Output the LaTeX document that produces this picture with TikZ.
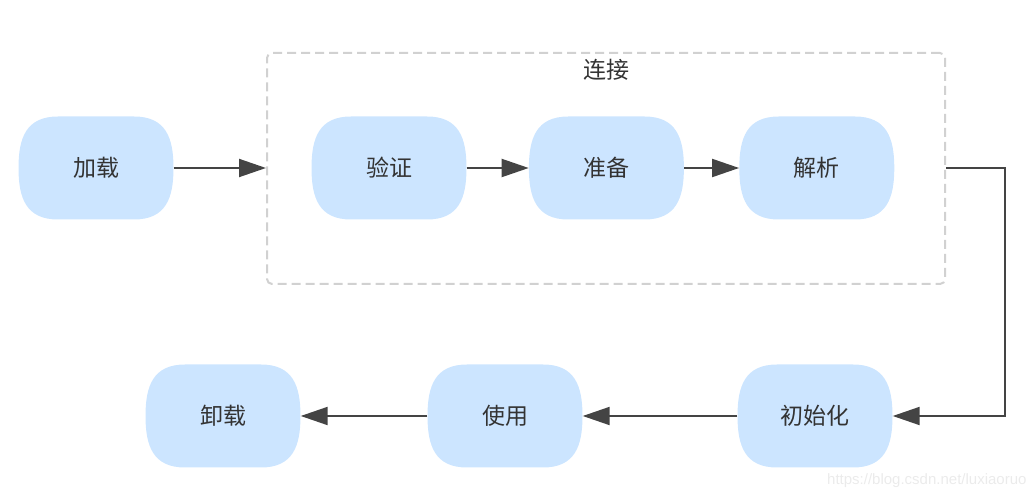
\documentclass[tikz,border=0pt]{standalone}
\usepackage{fontspec}
\usepackage{xcolor}
\usepackage{tikz}
\usetikzlibrary{arrows.meta,positioning}
\newfontfamily\cjk{Noto Sans CJK SC}
\definecolor{stepblue}{RGB}{204,229,255}
\definecolor{linegray}{RGB}{68,68,68}
\definecolor{textgray}{RGB}{51,51,51}
\newcommand{\ppc}[2]{([xshift=#1pt,yshift=#2pt]path picture bounding box.center)}

\begin{document}
\begin{tikzpicture}[
  x=1pt, y=1pt,
  stepbox/.style={draw=none, minimum width=155pt, minimum height=103pt, align=center,
                  text=textgray, font=\cjk\fontsize{23}{27}\selectfont,
                  path picture={\fill[stepblue]
                    \ppc{-38}{51.5} -- \ppc{38}{51.5}
                    .. controls \ppc{70}{51.5} and \ppc{77.5}{30} .. \ppc{77.5}{0}
                    .. controls \ppc{77.5}{-30} and \ppc{70}{-51.5} .. \ppc{38}{-51.5}
                    -- \ppc{-38}{-51.5}
                    .. controls \ppc{-70}{-51.5} and \ppc{-77.5}{-30} .. \ppc{-77.5}{0}
                    .. controls \ppc{-77.5}{30} and \ppc{-70}{51.5} .. \ppc{-38}{51.5} -- cycle;}},
  groupbox/.style={draw=black!18, dashed, dash pattern=on 9pt off 5pt, line width=2pt,
                   rounded corners=5pt, minimum width=678pt, minimum height=231pt},
  arr/.style={-{Triangle[length=27pt,width=18pt]}, line width=2pt, draw=linegray},
  node distance=0.4cm and 1.2cm
]
\useasboundingbox (0,0) rectangle (1036,498);
% upper row
\node[stepbox] (load) at (96,330) {加载};
\node[groupbox] (conn) at (606,329.5) {};
\node[text=textgray, font=\cjk\fontsize{23}{27}\selectfont] (connlbl) at (606,428) {连接};
\node[stepbox] (verify) at (389,330) {验证};
\node[stepbox, right=62pt of verify] (prepare) {准备};
\node[stepbox, right=55pt of prepare] (resolve) {解析};
% lower row
\node[stepbox] (init) at (815,82) {初始化};
\node[stepbox] (use) at (505,82) {使用};
\node[stepbox] (unload) at (223,82) {卸载};
\coordinate (turn) at (1005,330);
\draw[arr] (load.east) -- (load.east -| conn.west);
\draw[arr] (verify) -- (prepare);
\draw[arr] (prepare) -- (resolve);
\draw[arr] (conn.east |- turn) -- (turn) |- (init.east);
\draw[arr] (init) -- (use);
\draw[arr] (use) -- (unload);
% watermark
\node[text=black!8, font=\fontspec{Liberation Sans}\fontsize{15}{18}\selectfont, anchor=east] (mark) at (1030,17) {https://blog.csdn.net/luxiaoruo};
\end{tikzpicture}
\end{document}
